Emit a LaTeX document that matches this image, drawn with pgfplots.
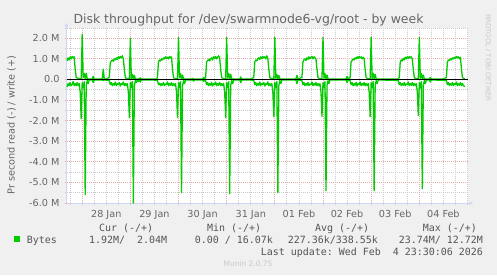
\documentclass[border=0pt]{standalone}
\usepackage{pgfplots}
\pgfplotsset{compat=1.18}
\usepackage{fontspec}
\setmainfont{DejaVu Sans}
\setmonofont{DejaVu Sans Mono}
\usetikzlibrary{arrows.meta}
\definecolor{bgc}{HTML}{F0F0F0}
\definecolor{fontc}{HTML}{666666}
\definecolor{legc}{HTML}{555555}
\definecolor{axisc}{HTML}{CFD6F8}
\definecolor{mgridc}{HTML}{EAAAAA}
\definecolor{gridc}{HTML}{CCCCCC}
\definecolor{linec}{HTML}{00CC00}
\definecolor{wmc}{HTML}{C8C8C8}

\begin{document}
\begin{tikzpicture}[x=1bp,y=1bp]
\fill[bgc] (0,0) rectangle (497,275);
\useasboundingbox (0,0) rectangle (497,275);
\begin{axis}[
  at={(66.5bp,72bp)}, anchor=south west, scale only axis,
  width=401.5bp, height=175bp,
  xmin=-7.82, xmax=192.27, ymin=-6, ymax=2.5,
  axis background/.style={fill=white},
  axis x line=bottom, axis y line=left,
  axis line style={axisc, line width=0.8bp, -{Stealth[length=4bp,width=4bp]}, shorten >=-5bp},
  xtick={12,36,...,180},
  xticklabels={28 Jan,29 Jan,30 Jan,31 Jan,01 Feb,02 Feb,03 Feb,04 Feb},
  minor xtick={-6,0,...,192},
  extra x ticks={0,24,...,168}, extra x tick labels={},
  extra x tick style={xmajorgrids=true, major grid style={mgridc, dash pattern=on 1bp off 1bp, line width=0.8bp}},
  xmajorgrids=false, xminorgrids=true,
  ytick={-6,-5,...,2},
  yticklabels={-6.0 M,-5.0 M,-4.0 M,-3.0 M,-2.0 M,-1.0 M,0.0,1.0 M,2.0 M},
  minor ytick={-5.5,-4.5,...,2.5},
  ymajorgrids=true, yminorgrids=true,
  major grid style={mgridc, dash pattern=on 1bp off 1bp, line width=0.8bp},
  minor grid style={gridc, dash pattern=on 1bp off 1bp, line width=0.8bp},
  tick align=outside,
  major tick length=2bp, minor tick length=2bp,
  major tick style={mgridc, line width=0.8bp},
  minor tick style={gridc, line width=0.8bp},
  every major x tick/.append style={draw=none},
  ticklabel style={font=\fontsize{9.7}{11}\selectfont, text=fontc},
  xticklabel style={yshift=-1.5bp},
  yticklabel style={xshift=-1.5bp},
]
% write (+)
\addplot[linec, line width=1.3bp, line join=round] coordinates {
(-7.8,1.0)(-7.5,0.92)(-7,1.05)(-6.5,0.95)(-6,1.1)(-5.5,1.0)(-5,1.12)(-4.5,1.05)(-4,1.1)(-3.5,0.5)(-3,0.1)(-2,0.05)(-1,0.03)(-0.5,0.05)
(0,2.2)(0.5,0.1)(1,0.3)(1.5,0.02)(2,0.3)(2.5,0.05)(3,0.02)(4,0.02)(5,0.02)(5.5,0.15)(6,0.02)(8,0.02)(10,0.02)(10.5,0.5)(11,0.02)(12,0.02)(13.5,0.1)(14,0.8)(14.5,0.9)(15,0.95)(15.5,0.88)(16,1.0)(16.5,0.95)(17,1.05)(17.5,0.98)(18,1.1)(18.5,1.02)(19,1.12)(19.5,1.05)(20,1.15)(20.5,1.0)(21,0.5)(21.5,0.1)(22,0.05)(23,0.05)(23.5,0.02)
(24,2.0)(24.5,0.05)(25,0.25)(25.5,0.02)(26,0.2)(26.5,0.03)(27,0.02)(28,0.02)(29,0.08)(29.5,0.02)(31,0.02)(33,0.02)(35,0.02)(37,0.02)(37.5,0.1)(38,0.85)(38.5,0.95)(39,0.9)(39.5,1.0)(40,0.95)(40.5,1.05)(41,1.0)(41.5,1.1)(42,1.02)(42.5,1.08)(43,1.0)(43.5,1.12)(44,1.05)(44.5,1.1)(45,0.5)(45.5,0.1)(46,0.05)(47,0.03)(47.5,0.02)
(48,2.05)(48.5,0.08)(49,0.28)(49.5,0.02)(50,0.22)(50.5,0.03)(51,0.02)(53,0.02)(54.5,0.02)(55,0.05)(55.5,0.02)(58,0.02)(60,0.02)(60.5,0.1)(61,0.02)(61.5,0.1)(62,0.85)(62.5,0.92)(63,0.98)(63.5,0.9)(64,1.0)(64.5,1.05)(65,0.95)(65.5,1.1)(66,1.02)(66.5,1.12)(67,1.0)(67.5,1.08)(68,1.15)(68.5,1.05)(69,0.5)(69.5,0.1)(70,0.05)(71,0.03)(71.5,0.02)
(72,2.05)(72.5,0.06)(73,0.3)(73.5,0.02)(74,0.25)(74.5,0.03)(75,0.02)(77,0.02)(78.5,0.02)(79,0.12)(79.5,0.02)(82,0.02)(84,0.02)(85.5,0.1)(86,0.85)(86.5,0.95)(87,0.9)(87.5,1.0)(88,1.05)(88.5,0.98)(89,1.1)(89.5,1.0)(90,1.12)(90.5,1.05)(91,1.1)(91.5,1.0)(92,1.15)(92.5,1.02)(93,0.5)(93.5,0.1)(94,0.05)(95,0.03)(95.5,0.02)
(96,2.05)(96.5,0.05)(97,0.25)(97.5,0.02)(98,0.2)(98.5,0.03)(99,0.02)(101,0.02)(104,0.02)(106.5,0.02)(107,0.2)(107.5,0.02)(109.5,0.1)(110,0.85)(110.5,0.95)(111,1.0)(111.5,0.92)(112,1.05)(112.5,0.98)(113,1.1)(113.5,1.0)(114,1.08)(114.5,1.12)(115,1.0)(115.5,1.1)(116,1.05)(116.5,1.0)(117,0.5)(117.5,0.1)(118,0.05)(119,0.03)(119.5,0.02)
(120,2.05)(120.5,0.06)(121,0.28)(121.5,0.02)(122,0.22)(122.5,0.03)(123,0.02)(126,0.02)(129,0.02)(131.5,0.02)(132,0.15)(132.5,0.02)(133.5,0.1)(134,0.85)(134.5,0.92)(135,1.0)(135.5,0.95)(136,1.05)(136.5,1.0)(137,1.1)(137.5,1.02)(138,1.12)(138.5,1.05)(139,1.1)(139.5,1.0)(140,1.08)(140.5,1.02)(141,0.5)(141.5,0.1)(142,0.05)(143,0.03)(143.5,0.02)
(144,2.05)(144.5,0.05)(145,0.3)(145.5,0.02)(146,0.25)(146.5,0.03)(147,0.02)(150,0.02)(153,0.02)(156,0.02)(157.5,0.02)(158,0.1)(158.5,0.85)(159,0.95)(159.5,0.9)(160,1.02)(160.5,0.95)(161,1.08)(161.5,1.0)(162,1.1)(162.5,1.02)(163,1.12)(163.5,1.05)(164,1.1)(164.5,1.0)(165,0.5)(165.5,0.1)(166,0.05)(167,0.03)(167.5,0.02)
(168,2.05)(168.5,0.06)(169,0.28)(169.5,0.02)(170,0.22)(170.5,0.03)(171,0.02)(173,0.02)(173.5,0.1)(174,0.02)(177,0.02)(180,0.02)(181.5,0.1)(182,0.85)(182.5,0.95)(183,0.92)(183.5,1.0)(184,0.95)(184.5,1.05)(185,1.0)(185.5,1.08)(186,1.02)(186.5,1.12)(187,1.05)(187.5,1.1)(188,1.0)(188.5,1.08)(189,0.5)(189.5,0.1)(190,0.05)(190.7,0.05)
};
% read (-)
\addplot[linec, line width=1.3bp, line join=round] coordinates {
(-7.8,-0.25)(-7.5,-0.35)(-7,-0.2)(-6.5,-0.3)(-6,-0.15)(-5.5,-0.3)(-5,-0.25)(-4.5,-0.1)(-4,-0.3)(-3.5,-0.2)(-3,-0.3)(-2.5,-0.15)(-2,-0.3)(-1.5,-0.2)(-1,-0.6)(-0.5,-1.9)
(0,-0.15)(0.5,-0.4)(1,-0.1)(1.5,-5.6)(2,-0.3)(2.5,-0.05)(3,-0.2)(3.5,-0.02)(5,-0.02)(5.5,-0.15)(6,-0.02)(8,-0.02)(10,-0.02)(10.5,-0.05)(11,-0.02)(13.5,-0.05)(14,-0.25)(14.5,-0.15)(15,-0.3)(15.5,-0.2)(16,-0.28)(16.5,-0.12)(17,-0.3)(17.5,-0.2)(18,-0.25)(18.5,-0.15)(19,-0.32)(19.5,-0.2)(20,-0.25)(20.5,-0.12)(21,-0.3)(21.5,-0.2)(22,-0.3)(22.5,-0.2)(23,-0.6)(23.5,-1.85)
(24,-0.15)(24.5,-0.4)(25,-0.1)(25.5,-6.0)(26,-0.3)(26.5,-0.05)(27,-0.15)(27.5,-0.02)(28,-0.1)(28.5,-0.02)(29,-0.12)(29.5,-0.02)(31,-0.02)(35,-0.02)(37.5,-0.05)(38,-0.25)(38.5,-0.18)(39,-0.3)(39.5,-0.2)(40,-0.28)(40.5,-0.15)(41,-0.3)(41.5,-0.22)(42,-0.25)(42.5,-0.12)(43,-0.3)(43.5,-0.2)(44,-0.28)(44.5,-0.15)(45,-0.3)(45.5,-0.2)(46,-0.3)(46.5,-0.2)(47,-0.6)(47.5,-1.85)
(48,-0.15)(48.5,-0.4)(49,-0.1)(49.5,-5.5)(50,-0.3)(50.5,-0.05)(51,-0.2)(51.5,-0.02)(55,-0.02)(55.5,-0.08)(56,-0.02)(60,-0.02)(60.5,-0.1)(61,-0.02)(61.5,-0.05)(62,-0.25)(62.5,-0.15)(63,-0.3)(63.5,-0.2)(64,-0.28)(64.5,-0.15)(65,-0.32)(65.5,-0.2)(66,-0.25)(66.5,-0.12)(67,-0.3)(67.5,-0.2)(68,-0.28)(68.5,-0.15)(69,-0.3)(69.5,-0.2)(70,-0.3)(70.5,-0.2)(71,-0.6)(71.5,-1.85)
(72,-0.15)(72.5,-0.4)(73,-0.1)(73.5,-5.55)(74,-0.3)(74.5,-0.05)(75,-0.2)(75.5,-0.02)(78.5,-0.02)(79,-0.15)(79.5,-0.02)(84,-0.02)(85.5,-0.05)(86,-0.25)(86.5,-0.15)(87,-0.3)(87.5,-0.2)(88,-0.28)(88.5,-0.12)(89,-0.3)(89.5,-0.2)(90,-0.25)(90.5,-0.15)(91,-0.32)(91.5,-0.2)(92,-0.25)(92.5,-0.12)(93,-0.3)(93.5,-0.2)(94,-0.3)(94.5,-0.2)(95,-0.6)(95.5,-1.8)
(96,-0.15)(96.5,-0.4)(97,-0.1)(97.5,-5.5)(98,-0.3)(98.5,-0.05)(99,-0.2)(99.5,-0.02)(106.5,-0.02)(107,-0.2)(107.5,-0.02)(109.5,-0.05)(110,-0.25)(110.5,-0.15)(111,-0.3)(111.5,-0.2)(112,-0.28)(112.5,-0.15)(113,-0.3)(113.5,-0.22)(114,-0.25)(114.5,-0.12)(115,-0.3)(115.5,-0.2)(116,-0.28)(116.5,-0.15)(117,-0.3)(117.5,-0.2)(118,-0.3)(118.5,-0.2)(119,-0.6)(119.5,-1.8)
(120,-0.15)(120.5,-0.4)(121,-0.1)(121.5,-5.4)(122,-0.3)(122.5,-0.05)(123,-0.2)(123.5,-0.02)(131.5,-0.02)(132,-0.15)(132.5,-0.02)(133.5,-0.05)(134,-0.25)(134.5,-0.15)(135,-0.3)(135.5,-0.2)(136,-0.28)(136.5,-0.15)(137,-0.32)(137.5,-0.2)(138,-0.25)(138.5,-0.12)(139,-0.3)(139.5,-0.2)(140,-0.28)(140.5,-0.15)(141,-0.3)(141.5,-0.2)(142,-0.3)(142.5,-0.2)(143,-0.6)(143.5,-1.8)
(144,-0.15)(144.5,-0.4)(145,-0.1)(145.5,-5.4)(146,-0.3)(146.5,-0.05)(147,-0.2)(147.5,-0.02)(157.5,-0.05)(158,-0.25)(158.5,-0.15)(159,-0.3)(159.5,-0.2)(160,-0.28)(160.5,-0.15)(161,-0.3)(161.5,-0.22)(162,-0.25)(162.5,-0.12)(163,-0.3)(163.5,-0.2)(164,-0.28)(164.5,-0.15)(165,-0.3)(165.5,-0.2)(166,-0.3)(166.5,-0.2)(167,-0.6)(167.5,-1.75)
(168,-0.15)(168.5,-0.4)(169,-0.1)(169.5,-5.3)(170,-0.3)(170.5,-0.05)(171,-0.2)(171.5,-0.02)(173,-0.02)(173.5,-0.12)(174,-0.02)(181.5,-0.05)(182,-0.25)(182.5,-0.15)(183,-0.3)(183.5,-0.2)(184,-0.28)(184.5,-0.15)(185,-0.3)(185.5,-0.2)(186,-0.25)(186.5,-0.12)(187,-0.3)(187.5,-0.2)(188,-0.28)(188.5,-0.15)(189,-0.3)(189.5,-0.2)(190,-0.3)(190.7,-0.35)
};
% zero rule
\addplot[black, line width=1bp] coordinates {(-7.82,0)(192.27,0)};
\end{axis}
% texts
\node[anchor=base, inner sep=0, font=\fontsize{12.5}{14}\selectfont, text=fontc] at (248.5,252) {Disk throughput for /dev/swarmnode6-vg/root - by week};
\node[rotate=90, inner sep=0, font=\fontsize{9.7}{11}\selectfont, text=fontc] at (11.5,150) {Pr second read (-) / write (+)};
\node[rotate=-90, anchor=west, inner sep=0, font=\fontsize{6.8}{8}\selectfont, text=wmc] at (488,261) {RRDTOOL / TOBI OETIKER};
\node[inner sep=0, font=\fontsize{7.5}{9}\selectfont, text=wmc] at (248,11) {Munin 2.0.75};
\begin{scope}[every node/.style={inner sep=0, font=\ttfamily\fontsize{10}{12}\selectfont, text=legc}]
\node[anchor=base west] at (99,44) {Cur (-/+)};
\node[anchor=base west] at (207,44) {Min (-/+)};
\node[anchor=base west] at (315,44) {Avg (-/+)};
\node[anchor=base west] at (422.7,44) {Max (-/+)};
\node[anchor=south west] at (14,33) {\textcolor{linec}{\rule{6bp}{6bp}}};
\node[anchor=base west] at (26.7,31.7) {Bytes};
\node[anchor=base west] at (89,31.7) {1.92M/~~2.04M};
\node[anchor=base west] at (194.7,31.7) {0.00 / 16.07k};
\node[anchor=base west] at (287.7,31.7) {227.36k/338.55k};
\node[anchor=base west] at (398.7,31.7) {23.74M/~12.72M};
\node[anchor=base east] at (483,20) {Last update: Wed Feb~~4 23:30:06 2026};
\end{scope}
\end{tikzpicture}
\end{document}
